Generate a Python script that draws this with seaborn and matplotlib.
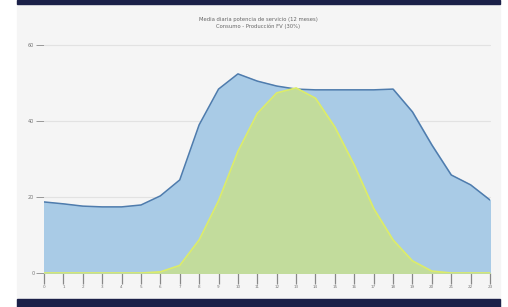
"""
Consumo horario vs producción FV: áreas superpuestas.
"""
import numpy as np
import pandas as pd
import matplotlib
matplotlib.use("Agg")
import matplotlib.pyplot as plt
from matplotlib.patches import Rectangle
import seaborn as sns

horas = list(range(24))
etiquetas_x = [str(h) for h in horas]
consumo = [18.7, 18.2, 17.6, 17.4, 17.4, 17.9, 20.3, 24.5, 39.0, 48.4, 52.4, 50.5,
           49.2, 48.4, 48.2, 48.2, 48.2, 48.2, 48.4, 42.4, 33.7, 25.8, 23.2, 19.2]
produccion = [0, 0, 0, 0, 0, 0, 0.3, 2.0, 8.7, 19.0, 32.0, 42.0,
              47.4, 48.7, 46.0, 38.4, 28.4, 17.0, 8.7, 3.2, 0.5, 0, 0, 0]
ticks_y = [0, 20, 40, 60]
titulo = "Media diaria potencia de servicio (12 meses)\nConsumo - Producción FV (30%)"

df = pd.DataFrame({"hora": horas, "consumo": consumo, "produccion": produccion})

sns.set_style("white")
plt.rcParams["font.family"] = ["DejaVu Sans"]

W, H = 508, 307
fig = plt.figure(figsize=(W / 100, H / 100), dpi=100, facecolor="white")
# panel gris y bandas oscuras
fig.patches.append(Rectangle((17 / W, 0), (500 - 17) / W, 1, transform=fig.transFigure,
                             color="#f5f5f5", zorder=-10))
fig.patches.append(Rectangle((17 / W, 1 - 4 / H), (500 - 17) / W, 4 / H,
                             transform=fig.transFigure, color="#1b2048", zorder=-5))
fig.patches.append(Rectangle((17 / W, 0), (500 - 17) / W, 8 / H,
                             transform=fig.transFigure, color="#1b2048", zorder=-5))

ax = fig.add_axes([44 / W, 34 / H, (490 - 44) / W, (273 - 45) / H])
ax.set_facecolor("none")

ax.fill_between(df["hora"], df["consumo"], color="#a9cbe6", zorder=2)
sns.lineplot(data=df, x="hora", y="consumo", color="#4f7cad", linewidth=1.1, ax=ax, zorder=3)
ax.fill_between(df["hora"], df["produccion"], color="#c2dc9c", zorder=4)
sns.lineplot(data=df, x="hora", y="produccion", color="#dcec6a", linewidth=1.2, ax=ax, zorder=5)

ax.set_xlim(0, 23)
ax.set_ylim(0, 60)
ax.set_yticks(ticks_y)
ax.set_yticklabels([str(v) for v in ticks_y], fontsize=3.5, color="#777777")
ax.set_xticks(horas)
ax.set_xticklabels(etiquetas_x, fontsize=3, color="#777777")
ax.tick_params(axis="y", left=True, length=6, width=0.7, color="#999999", pad=1)
ax.tick_params(axis="x", bottom=True, length=8, width=0.9, color="#888888", pad=1)
for v in ticks_y[1:]:
    ax.axhline(v, color="#e2e2e2", linewidth=0.8, zorder=1, clip_on=False)
for s in ax.spines.values():
    s.set_visible(False)
ax.set_xlabel("")
ax.set_ylabel("")

fig.text(258 / W, 1 - 23 / H, titulo, ha="center", va="center", fontsize=3.8,
         color="#666666", linespacing=1.2)

fig.savefig("out.png", dpi=100)
